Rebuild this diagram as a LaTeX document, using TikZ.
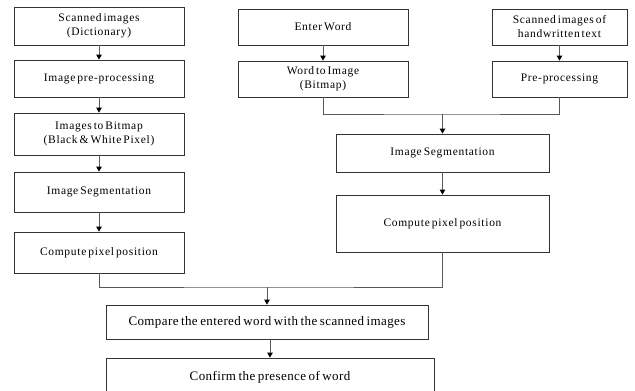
\documentclass[tikz,border=0pt]{standalone}
\usepackage{fontspec}
\setmainfont{Liberation Serif}
\newfontfamily\smallface[LetterSpace=6,WordSpace=0.55]{Liberation Serif}
\newfontfamily\bigface[LetterSpace=3,WordSpace=0.7]{Liberation Serif}
\usetikzlibrary{arrows.meta}
\begin{document}
\begin{tikzpicture}[x=1pt,y=-1pt,
  box/.style={draw=black!80,line width=0.8pt,fill=white,inner sep=0pt,align=center,font=\smallface\fontsize{11.5}{14}\selectfont},
  bigbox/.style={box,font=\bigface\fontsize{13}{15}\selectfont},
  conn/.style={draw=black!65,line width=0.9pt},
  arr/.style={conn,-{Triangle[length=5pt,width=5.5pt,color=black]}}]
\useasboundingbox (0,0) rectangle (635,391);
\begin{scope}
\clip (0,0) rectangle (635,391);
% left column
\node[box,minimum width=170pt,minimum height=38pt] (l1) at (99,26) {Scanned images\\(Dictionary)};
\node[box,minimum width=170pt,minimum height=37pt] (l2) at (99,78.5) {Image pre-processing};
\node[box,minimum width=170pt,minimum height=42pt] (l3) at (99,134) {Images to Bitmap\\(Black \& White Pixel)};
\node[box,minimum width=170pt,minimum height=40pt] (l4) at (99,192) {Image Segmentation};
\node[box,minimum width=170pt,minimum height=41pt] (l5) at (99,252.5) {Compute pixel position};
% middle column
\node[box,minimum width=170pt,minimum height=36pt] (m1) at (323,27) {Enter Word};
\node[box,minimum width=170pt,minimum height=36pt] (m2) at (323,79) {Word to Image\\(Bitmap)};
% right column
\node[box,minimum width=135pt,minimum height=36pt] (r1) at (559.5,27) {Scanned images of\\handwritten text};
\node[box,minimum width=135pt,minimum height=36pt] (r2) at (559.5,79) {Pre-processing};
% right processing
\node[box,minimum width=213pt,minimum height=38pt] (s) at (442.5,153) {Image Segmentation};
\node[box,minimum width=213pt,minimum height=57pt] (c) at (442.5,223.5) {Compute pixel position};
% bottom
\node[bigbox,minimum width=322pt,minimum height=34pt] (cmp) at (267,322) {Compare the entered word with the scanned images};
\node[bigbox,minimum width=328pt,minimum height=38pt] (cf) at (270,377) {Confirm the presence of word};
% connectors
\draw[arr] (l1) -- (l2);
\draw[arr] (l2) -- (l3);
\draw[arr] (l3) -- (l4);
\draw[arr] (l4) -- (l5);
\draw[arr] (m1) -- (m2);
\draw[arr] (r1) -- (r2);
\coordinate (jt) at (442.5,114);
\draw[conn] (m2.south) |- (jt) -| (r2.south);
\draw[arr] (jt) -- (s.north);
\draw[arr] (s) -- (c);
\coordinate (jb) at (267,287);
\draw[conn] (l5.south) |- (jb) -| (c.south);
\draw[arr] (jb) -- (cmp.north);
\draw[arr] ([xshift=3pt]cmp.south) -- (cf.north);
\end{scope}
\end{tikzpicture}
\end{document}
